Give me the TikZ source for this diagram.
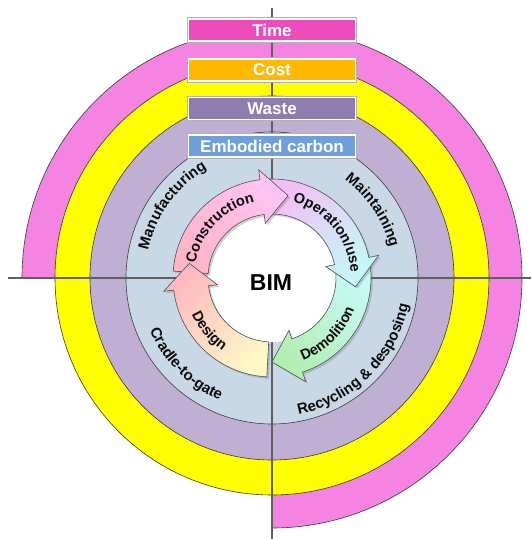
\documentclass[tikz,border=0pt]{standalone}
\usepackage{fontspec}
\setmainfont{Liberation Sans}
\usetikzlibrary{decorations.text,shadows}
\definecolor{pinkring}{HTML}{F583E1}
\definecolor{yellowring}{HTML}{FFFF00}
\definecolor{purplering}{HTML}{BFAFD2}
\definecolor{bluering}{HTML}{C9D8E7}
\definecolor{timec}{HTML}{EC4CBA}
\definecolor{costc}{HTML}{FFBA00}
\definecolor{wastec}{HTML}{8F7BAD}
\definecolor{carbonc}{HTML}{6E9FDB}
\definecolor{axisc}{HTML}{5F5F5F}
\definecolor{edgec}{HTML}{3A3A3A}
\definecolor{labelc}{HTML}{0A0A0A}
\definecolor{desA}{HTML}{FFF7C6}
\definecolor{desB}{HTML}{FFB9C0}
\definecolor{conA}{HTML}{FFB4C8}
\definecolor{conB}{HTML}{FFC4F6}
\definecolor{opA}{HTML}{F2C0F6}
\definecolor{opB}{HTML}{C4F8F8}
\definecolor{demA}{HTML}{C6FAF8}
\definecolor{demB}{HTML}{B2EEB0}
\begin{document}
\begin{tikzpicture}[x=1pt,y=1pt,
  ringedge/.style={draw=edgec, line width=0.6pt},
  axisline/.style={draw=axisc, line width=2pt},
  boxlabel/.style={preaction={draw=black!30, line width=3.8pt}, draw=white, line width=1.8pt,
    minimum width=167pt, minimum height=22pt, inner sep=0pt, text=white,
    font=\bfseries\fontsize{17}{17}\selectfont},
  cyc/.style n args={3}{insert path={(#1:99) arc[start angle=#1, end angle=#2, radius=99]
    -- (#2:109) -- (#3:84) -- (#2:55) -- (#2:64) arc[start angle=#2, end angle=#1, radius=64] -- cycle}},
  cycarrow/.style={draw=edgec!90, line width=0.6pt,
    drop shadow={opacity=0.35, shadow xshift=2pt, shadow yshift=-2pt}},
  curvedlabel/.style={decorate, decoration={text along path, text align=center, text={#1}}},
]
\useasboundingbox (-272,-261) rectangle (259,278);
% rings
\path[fill=pinkring] (0,0) -- (-90:250) arc[start angle=-90, end angle=180, radius=250] -- cycle;
\draw[ringedge] (-90:250) arc[start angle=-90, end angle=180, radius=250];
\path[fill=yellowring, ringedge] (0,0) circle[radius=217];
\path[fill=purplering, ringedge] (0,0) circle[radius=182];
\path[fill=bluering, ringedge] (0,0) circle[radius=146];
% axes
\coordinate (vtop) at (0,270);
\coordinate (vbot) at (0,-261);
\coordinate (hleft) at (-264,0);
\coordinate (hright) at (259,0);
\draw[axisline] (vtop) -- (vbot);
\draw[axisline] (hleft) -- (hright);
% centre
\path[fill=white] (0,0) circle[radius=64];
% cycle arrows
\path[cycarrow, top color=demA, bottom color=demB, shading angle=-45, cyc={8}{-72}{-90}];
\path[cycarrow, top color=opA, bottom color=opB, shading angle=45, cyc={92}{12}{-6}];
\path[cycarrow, top color=conB, bottom color=conA, shading angle=-45, cyc={176}{97}{79}];
\path[cycarrow, top color=desB, bottom color=desA, shading angle=45, cyc={267}{187}{170}];
% arrow labels
\path[curvedlabel={|\color{labelc}\bfseries\fontsize{14.5}{14.5}\selectfont|Construction}]
  (200:78) arc[start angle=200, end angle=72, radius=78];
\path[curvedlabel={|\color{labelc}\bfseries\fontsize{14.5}{14.5}\selectfont|Operation/use}]
  (105:79) arc[start angle=105, end angle=-26, radius=79];
\path[curvedlabel={|\color{labelc}\bfseries\fontsize{14.5}{14.5}\selectfont|Demolition}]
  (-110:88) arc[start angle=-110, end angle=20, radius=88];
\path[curvedlabel={|\color{labelc}\bfseries\fontsize{14.5}{14.5}\selectfont|Design}]
  (170:88) arc[start angle=170, end angle=270, radius=88];
% ring labels
\path[curvedlabel={|\color{labelc}\bfseries\fontsize{15}{15}\selectfont|Manufacturing}]
  (205:127) arc[start angle=205, end angle=83, radius=127];
\path[curvedlabel={|\color{labelc}\bfseries\fontsize{15}{15}\selectfont|Maintaining}]
  (95:122) arc[start angle=95, end angle=-27, radius=122];
\path[curvedlabel={|\color{labelc}\bfseries\fontsize{15}{15}\selectfont|Recycling {\&} desposing}]
  (-125:139) arc[start angle=-125, end angle=35, radius=139];
\path[curvedlabel={|\color{labelc}\bfseries\fontsize{15}{15}\selectfont|Cradle-to-gate}]
  (165:133) arc[start angle=165, end angle=285, radius=133];
% centre label
\node[font=\bfseries\fontsize{23}{23}\selectfont, text=black] (bim) at (-1,-5) {BIM};
% boxes
\node[boxlabel, fill=timec] (time) at (0,248) {Time};
\node[boxlabel, fill=costc] (cost) at (0,208) {Cost};
\node[boxlabel, fill=wastec] (waste) at (0,169.5) {Waste};
\node[boxlabel, fill=carbonc] (carbon) at (0,132) {Embodied carbon};
\end{tikzpicture}
\end{document}
